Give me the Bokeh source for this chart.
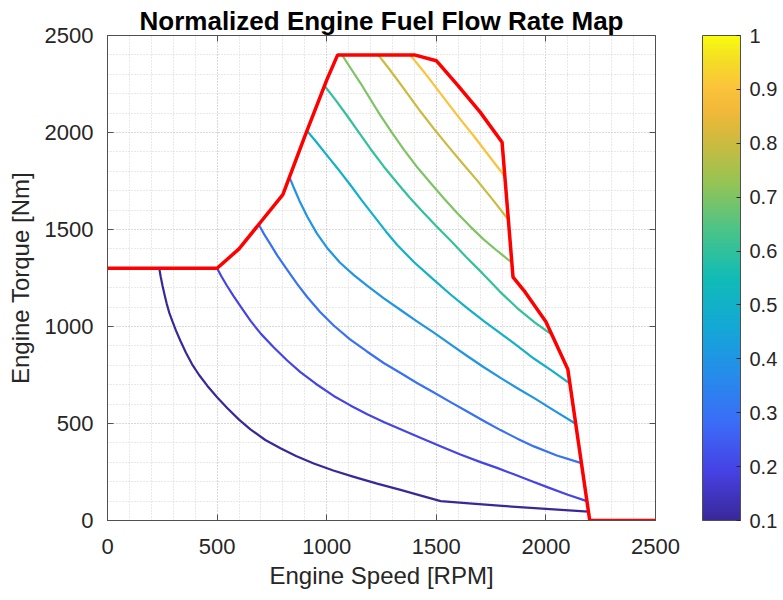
import numpy as np
from bokeh.plotting import figure
from bokeh.models import (Range1d, LinearAxis, ColorBar, LinearColorMapper, FixedTicker,
                          ColumnDataSource, CustomJSTickFormatter)
from bokeh.transform import linear_cmap
from bokeh.embed import file_html
from bokeh.resources import INLINE

# ---------------- data ----------------
title_text = "Normalized Engine Fuel Flow Rate Map"
x_label = "Engine Speed [RPM]"
y_label = "Engine Torque [Nm]"

# maximum-torque boundary (red)
boundary_speed = [0, 500, 600, 700, 800, 900, 1000, 1050, 1400, 1500, 1600, 1700,
                  1800, 1850, 1900, 2000, 2100, 2200, 2500]
boundary_torque = [1300, 1300, 1400, 1540, 1680, 1980, 2270, 2400, 2400, 2370, 2240,
                   2105, 1950, 1255, 1185, 1025, 780, 0, 0]

# contour levels of normalized fuel flow
levels = [0.1, 0.2, 0.3, 0.4, 0.5, 0.6, 0.7, 0.8, 0.9]

c01_speed = [236, 243, 251, 260, 270, 282, 295, 312, 333, 358, 386, 418, 455, 500, 546,
             600, 652, 720, 789, 860, 941, 1030, 1124, 1230, 1337, 1430, 1520, 1650,
             1800, 2000, 2194]
c01_torque = [1300, 1255, 1210, 1165, 1118, 1070, 1030, 980, 925, 865, 805, 750, 695, 635,
              580, 520, 470, 415, 372, 332, 294, 258, 225, 190, 158, 128, 100, 88,
              75, 60, 46]

c02_speed = [500, 520, 545, 576, 610, 652, 700, 759, 820, 880, 950, 1032, 1110, 1185,
             1260, 1337, 1430, 1519, 1610, 1702, 1780, 1854, 1930, 2006, 2100, 2187]
c02_torque = [1300, 1258, 1210, 1155, 1098, 1030, 962, 892, 825, 765, 705, 642, 592, 548,
              508, 470, 425, 383, 340, 301, 270, 238, 205, 172, 133, 100]

c03_speed = [690, 700, 715, 740, 775, 820, 865, 911, 970, 1032, 1105, 1185, 1260, 1337,
             1410, 1489, 1565, 1641, 1717, 1793, 1870, 1945, 2050, 2162]
c03_torque = [1526, 1505, 1475, 1430, 1365, 1292, 1220, 1152, 1075, 1005, 935, 870, 812,
              760, 710, 660, 610, 562, 513, 466, 422, 382, 335, 296]

c04_speed = [830, 850, 875, 911, 955, 1002, 1060, 1124, 1190, 1261, 1337, 1410, 1489,
             1565, 1641, 1717, 1793, 1870, 1945, 2040, 2136]
c04_torque = [1770, 1715, 1650, 1567, 1480, 1405, 1330, 1265, 1205, 1145, 1085, 1028, 968,
              908, 848, 790, 735, 682, 632, 565, 499]

c05_speed = [910, 950, 1017, 1060, 1109, 1160, 1215, 1270, 1322, 1400, 1489, 1565, 1641,
             1717, 1793, 1870, 1945, 2030, 2110]
c05_torque = [2009, 1955, 1860, 1800, 1728, 1650, 1570, 1490, 1420, 1330, 1240, 1165, 1095,
              1028, 965, 900, 835, 770, 705]

c06_speed = [990, 1040, 1094, 1145, 1200, 1260, 1322, 1380, 1443, 1505, 1565, 1635, 1710,
             1790, 1869, 1950, 2030]
c06_torque = [2241, 2168, 2085, 2003, 1915, 1825, 1740, 1662, 1585, 1512, 1443, 1360, 1275,
              1180, 1095, 1020, 956]

c07_speed = [1070, 1110, 1154, 1200, 1245, 1300, 1352, 1410, 1474, 1535, 1595, 1655, 1717,
             1780, 1844]
c07_torque = [2400, 2330, 2255, 2170, 2088, 1995, 1912, 1825, 1740, 1660, 1585, 1515, 1448,
              1388, 1330]

c08_speed = [1235, 1280, 1322, 1375, 1428, 1490, 1550, 1620, 1687, 1760, 1829]
c08_torque = [2400, 2335, 2272, 2190, 2108, 2018, 1935, 1840, 1752, 1650, 1550]

c09_speed = [1380, 1420, 1458, 1505, 1550, 1610, 1671, 1740, 1813]
c09_torque = [2400, 2345, 2292, 2222, 2155, 2068, 1982, 1880, 1773]

axis_ticks = [0, 500, 1000, 1500, 2000, 2500]
minor_ticks = [0, 100, 200, 300, 400, 500, 600, 700, 800, 900, 1000, 1100, 1200, 1300,
               1400, 1500, 1600, 1700, 1800, 1900, 2000, 2100, 2200, 2300, 2400, 2500]
colorbar_ticks = [0.1, 0.2, 0.3, 0.4, 0.5, 0.6, 0.7, 0.8, 0.9, 1.0]

# ---------------- style ----------------
FONT = "Liberation Sans"
AX_COLOR = "#505050"
TXT_COLOR = "#262626"

# parula-like colormap (style): anchor colours expanded to 256 entries
_anchor_t = [0.0, 0.1, 0.2, 0.3, 0.4, 0.5, 0.6, 0.7, 0.8, 0.85, 0.9, 0.95, 1.0]
_anchor_hex = ["#3a289a", "#4641e4", "#3b6cf8", "#268ceb", "#14a8d6", "#10bcb6",
               "#4bc487", "#97c453", "#d8b93c", "#f3b93a", "#fcc63a", "#f4dd24", "#f9fb0e"]
_rgb = np.array([[int(h[i:i + 2], 16) for i in (1, 3, 5)] for h in _anchor_hex], float)
_tt = np.linspace(0, 1, 256)
parula = ["#%02x%02x%02x" % tuple(int(round(np.interp(t, _anchor_t, _rgb[:, k]))) for k in range(3))
          for t in _tt]

p = figure(width=783, height=600, x_range=Range1d(0, 2500), y_range=Range1d(0, 2500),
           output_backend="svg", toolbar_location=None,
           min_border_left=107, min_border_right=128, min_border_top=35, min_border_bottom=80,
           title=title_text)
p.background_fill_color = "white"
p.border_fill_color = "white"
p.outline_line_color = AX_COLOR
p.outline_line_width = 1

p.title.text_font = FONT
p.title.text_font_size = "26px"
p.title.text_font_style = "bold"
p.title.text_color = "black"
p.title.align = "center"
p.title.standoff = 0

for ax, lab in ((p.xaxis[0], x_label), (p.yaxis[0], y_label)):
    ax.ticker = FixedTicker(ticks=axis_ticks, minor_ticks=minor_ticks)
    ax.axis_label = lab
    ax.axis_label_text_font = FONT
    ax.axis_label_text_font_size = "24px"
    ax.axis_label_text_font_style = "normal"
    ax.axis_label_text_color = TXT_COLOR
    ax.major_label_text_font = FONT
    ax.major_label_text_font_size = "22px"
    ax.major_label_text_color = TXT_COLOR
    ax.axis_line_color = AX_COLOR
    ax.major_tick_line_color = AX_COLOR
    ax.major_tick_in = 6
    ax.major_tick_out = 0
    ax.minor_tick_line_color = None

p.xaxis[0].major_label_standoff = 14
p.xaxis[0].axis_label_standoff = 5
p.yaxis[0].major_label_standoff = 10
p.yaxis[0].axis_label_standoff = 8

for g in (p.xgrid[0], p.ygrid[0]):
    g.grid_line_color = "#c8c8c8"
    g.grid_line_dash = "1 2"
    g.minor_grid_line_color = "#d2d2d2"
    g.minor_grid_line_dash = "1 2"

# tick marks on the top and right edges of the box (no labels)
for loc in ("above", "right"):
    extra = LinearAxis(ticker=FixedTicker(ticks=axis_ticks),
                       formatter=CustomJSTickFormatter(code="return ''"),
                       major_label_text_color=None, major_label_text_font_size="1px",
                       major_label_standoff=0,
                       axis_line_color=None, major_tick_in=6, major_tick_out=0,
                       major_tick_line_color=AX_COLOR, minor_tick_line_color=None)
    p.add_layout(extra, loc)

src = ColumnDataSource(dict(
    xs=[c01_speed, c02_speed, c03_speed, c04_speed, c05_speed, c06_speed, c07_speed, c08_speed, c09_speed],
    ys=[c01_torque, c02_torque, c03_torque, c04_torque, c05_torque, c06_torque, c07_torque, c08_torque, c09_torque],
    level=levels))
p.multi_line("xs", "ys", source=src, line_width=2.2, line_join="round",
             line_color=linear_cmap("level", parula, 0.1, 1.0))

p.line(boundary_speed, boundary_torque, line_color="#ff0000", line_width=3.5)

mapper = LinearColorMapper(palette=parula, low=0.1, high=1.0)
cb = ColorBar(color_mapper=mapper, ticker=FixedTicker(ticks=colorbar_ticks),
              formatter=CustomJSTickFormatter(code="return String(Math.round(tick*10)/10)"),
              width=38, height=485, location=(595, 0), padding=0, margin=0,
              major_label_text_font=FONT, major_label_text_font_size="20px",
              major_label_text_color=TXT_COLOR, major_tick_line_color=TXT_COLOR,
              major_tick_in=4, major_tick_out=0, bar_line_color=AX_COLOR,
              background_fill_color=None, border_line_color=None, label_standoff=9)
p.add_layout(cb, "center")

open("out.html", "w").write(file_html(p, INLINE))
